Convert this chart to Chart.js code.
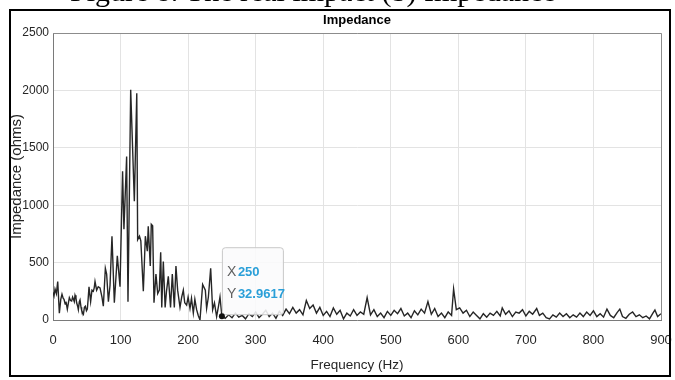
<!DOCTYPE html>
<html>
<head>
<meta charset="utf-8">
<script src="https://cdn.jsdelivr.net/npm/chart.js@4.4.1/dist/chart.umd.min.js"></script>
<style>
  html, body { margin: 0; padding: 0; background: #fff; }
  #wrap { width: 675px; height: 380px; position: relative; }
</style>
</head>
<body>
<div id="wrap"><canvas id="c" width="675" height="380"></canvas></div>
<script>
// ---- data ----
const freqHz = [
  0, 1.5, 3, 5, 7, 9.4, 11.5, 13.3, 15, 16.3, 18, 19.2, 21.2, 22.8, 24.2, 26, 27.6, 29, 30, 31.5,
  32.6, 34, 35, 36.5, 37.5, 39, 40, 41.5, 42.4, 44, 45, 46.5, 47.9, 49.5, 50.8, 52, 53.3, 55.7, 57.7, 59.7,
  61, 62.2, 64.6, 67, 69.6, 72.5, 74.5, 77.5, 79.4, 82, 84.4, 87.3, 90.8, 95.2, 99.2, 103, 105, 109, 111, 115,
  120.4, 124, 125.3, 128, 130, 133.7, 136.7, 139.6, 141, 144, 145.5, 147.5, 149.5, 152.4, 155, 157.4, 159.4, 161, 163.3, 166,
  168, 170.7, 174, 176.6, 179.6, 182, 184.5, 188, 190.5, 192.9, 195, 197.8, 200, 202.8, 205, 207.7, 210, 212.6, 215, 217.6,
  221.5, 225.5, 227.4, 230, 233.4, 236.3, 239, 242.2, 245, 247.2, 250,
  255, 260, 265, 270, 275, 280, 285, 290, 295, 300, 305, 310, 315, 320, 325, 330, 335, 340, 345, 350,
  355, 360, 365, 370, 375, 380, 385, 390, 395, 400, 405, 410, 415, 420, 425, 430, 435, 440, 445, 450,
  455, 460, 465, 470, 475, 480, 485, 490, 495, 500, 505, 510, 515, 520, 525, 530, 535, 540, 545, 550,
  555, 560, 565, 570, 575, 580, 585, 590, 593, 597, 602, 607, 612, 617, 622, 627, 632, 637, 642, 647,
  652, 657, 662, 665, 670, 675, 680, 685, 690, 695, 700, 705, 710, 716, 720, 725, 730, 735, 740, 745,
  750, 755, 760, 765, 770, 775, 780, 785, 790, 795, 800, 805, 810, 815, 820, 825, 830, 835, 839, 843,
  848, 853, 858, 863, 868, 873, 878, 883, 888, 891, 895, 900
];
const impedanceOhms = [
  240, 210, 270, 230, 335, 60, 180, 225, 190, 180, 140, 160, 95, 150, 195, 170, 165, 200, 185, 160,
  215, 190, 150, 120, 90, 160, 175, 110, 85, 60, 50, 110, 120, 80, 95, 180, 290, 160, 260, 250,
  280, 335, 260, 290, 280, 200, 120, 450, 400, 160, 300, 730, 150, 560, 290, 1295, 790, 1425, 160, 2005,
  1035, 1975, 700, 730, 690, 250, 730, 600, 816, 470, 833, 820, 150, 400, 230, 260, 590, 110, 510, 110,
  250, 380, 110, 400, 110, 470, 260, 110, 200, 260, 150, 130, 200, 100, 190, 60, 180, 90, 40, 0,
  310, 260, 100, 200, 450, 90, 150, 30, 120, 200, 33,
  15, 45, 20, 60, 25, 40, 10, 55, 30, 70, 20, 50, 85, 30, 60, 15, 75, 40, 95, 55,
  110, 60, 90, 45, 170, 100, 130, 60, 110, 40, 75, 30, 105, 50, 85, 10, 60, 35, 90, 40,
  70, 50, 195, 45, 90, 30, 60, 20, 75, 40, 85, 55, 100, 35, 60, 20, 80, 45, 95, 60,
  160, 50, 100, 30, 60, 20, 70, 40, 270, 90, 105, 60, 85, 30, 70, 40, 10, 55, 25, 60,
  40, 75, 35, 105, 50, 80, 30, 70, 60, 90, 35, 75, 50, 100, 40, 60, 20, 10, 45, 25,
  60, 30, 55, 20, 45, 25, 60, 30, 70, 40, 80, 30, 55, 25, 95, 40, 20, 65, 95, 30,
  15, 50, 70, 30, 45, 20, 35, 10, 60, 87, 30, 55
];
const xTicks = [0, 100, 200, 300, 400, 500, 600, 700, 800, 900];
const yTicks = [0, 500, 1000, 1500, 2000, 2500];
const tipFreq = 250;
const tipImpedance = 32.9617;
const chartTitle = "Impedance";
const xTitle = "Frequency (Hz)";
const yTitle = "Impedance (ohms)";
const captionText = "Figure 8. The real impact (b) Impedance";

const points = freqHz.map((f, i) => ({ x: f, y: impedanceOhms[i] }));
const SANS = '"Liberation Sans", Arial, Helvetica, sans-serif';

const decor = {
  id: 'decor',
  beforeDraw(chart) {
    const ctx = chart.ctx;
    ctx.save();
    ctx.fillStyle = '#fff';
    ctx.fillRect(0, 0, chart.width, chart.height);
    ctx.restore();
  },
  afterDraw(chart) {
    const ctx = chart.ctx;
    const a = chart.chartArea;
    const xs = chart.scales.x, ys = chart.scales.y;
    ctx.save();
    // plot box (top / right)
    ctx.strokeStyle = '#8c8c8c';
    ctx.lineWidth = 1;
    ctx.beginPath();
    ctx.moveTo(a.left, a.top + 0.5); ctx.lineTo(a.right + 0.5, a.top + 0.5); ctx.lineTo(a.right + 0.5, a.bottom);
    ctx.stroke();
    // title
    ctx.fillStyle = '#000';
    ctx.font = 'bold 13px ' + SANS;
    ctx.textAlign = 'center';
    ctx.textBaseline = 'middle';
    ctx.fillText(chartTitle, (a.left + a.right) / 2, 20);
    // data tip
    const px = xs.getPixelForValue(tipFreq), py = ys.getPixelForValue(tipImpedance);
    const bx = px, by = py - 69, bw = 61, bh = 67;
    ctx.fillStyle = 'rgba(250,250,252,0.88)';
    ctx.strokeStyle = '#c8c8c8';
    ctx.lineWidth = 1;
    ctx.beginPath();
    ctx.roundRect(bx + 0.5, by + 0.5, bw, bh, 3);
    ctx.fill(); ctx.stroke();
    ctx.fillStyle = '#111';
    ctx.beginPath(); ctx.arc(px, py, 3, 0, Math.PI * 2); ctx.fill();
    ctx.textAlign = 'left';
    ctx.textBaseline = 'alphabetic';
    ctx.font = '14px ' + SANS;
    ctx.fillStyle = '#606060';
    ctx.fillText('X', bx + 5, by + 29);
    ctx.fillText('Y', bx + 5, by + 51);
    ctx.font = 'bold 13px ' + SANS;
    ctx.fillStyle = '#2a9fd8';
    ctx.fillText(String(tipFreq), bx + 16, by + 29);
    ctx.fillText(String(tipImpedance), bx + 16, by + 51);
    // caption text (clipped at the top of the figure)
    ctx.fillStyle = '#000';
    ctx.font = '30px "Liberation Serif", "Times New Roman", serif';
    ctx.textBaseline = 'alphabetic';
    ctx.fillText(captionText, 70, 1);
    // outer frame
    ctx.strokeStyle = '#000';
    ctx.lineWidth = 2;
    ctx.strokeRect(10, 10, 660, 366);
    ctx.restore();
  }
};

new Chart(document.getElementById('c'), {
  type: 'line',
  data: {
    datasets: [{
      data: points,
      borderColor: '#262626',
      borderWidth: 1.4,
      pointRadius: 0,
      tension: 0,
      fill: false
    }]
  },
  options: {
    responsive: false,
    devicePixelRatio: 1,
    animation: false,
    parsing: false,
    layout: { padding: { left: 8, right: 14, top: 33, bottom: 0 } },
    plugins: { legend: { display: false }, tooltip: { enabled: false }, title: { display: false } },
    scales: {
      x: {
        type: 'linear',
        min: 0, max: 900,
        afterFit(s) { s.height = 60; },
        afterBuildTicks(s) { s.ticks = xTicks.map(v => ({ value: v })); },
        ticks: { color: '#262626', font: { family: SANS, size: 13 }, padding: 1, maxRotation: 0, callback: v => String(v) },
        grid: { color: '#e3e3e3', drawTicks: true, tickLength: 12, tickColor: 'rgba(0,0,0,0)' },
        border: { display: true, color: '#7a7a7a', width: 1 },
        title: { display: true, text: xTitle, color: '#262626', font: { family: SANS, size: 13.5 }, padding: { top: 0, bottom: 7 } }
      },
      y: {
        type: 'linear',
        min: 0, max: 2500,
        afterFit(s) { s.width = 45; },
        afterBuildTicks(s) { s.ticks = yTicks.map(v => ({ value: v })); },
        ticks: { color: '#262626', font: { family: SANS, size: 12 }, padding: 4, callback: v => String(v) },
        grid: { color: '#e3e3e3', drawTicks: false },
        border: { display: true, color: '#7a7a7a', width: 1 },
        title: { display: true, text: yTitle, color: '#262626', font: { family: SANS, size: 15 }, padding: { top: 0, bottom: 0 } }
      }
    }
  },
  plugins: [decor]
});
</script>
</body>
</html>
